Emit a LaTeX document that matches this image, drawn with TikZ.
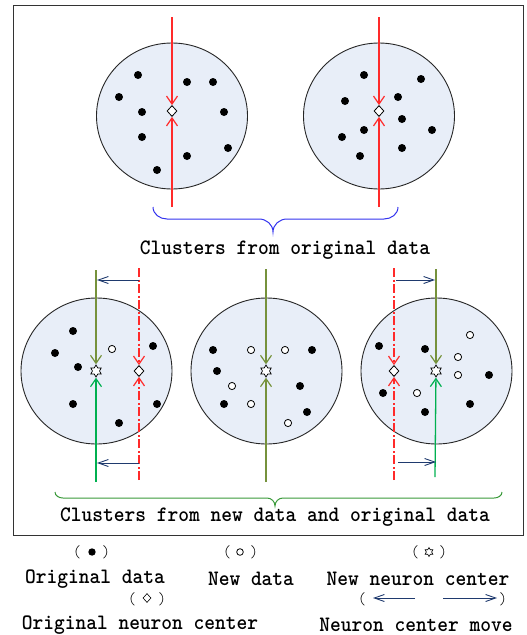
\documentclass[tikz,border=0pt]{standalone}
\usepackage{fontspec}
\newfontfamily\labfont[FakeStretch=0.93]{Latin Modern Mono Light}
\usetikzlibrary{arrows.meta,shapes.geometric}
\definecolor{cfill}{HTML}{E8EEF8}
\definecolor{cred}{HTML}{FF2A2A}
\definecolor{colive}{HTML}{76923C}
\definecolor{cgreen}{HTML}{00B050}
\definecolor{cnavy}{HTML}{1F3A6E}
\definecolor{cbrace}{HTML}{3333EE}
\definecolor{cgbrace}{HTML}{3A9A3A}
\tikzset{
  cluster/.style={draw=black!85,fill=cfill,line width=0.9pt},
  fdot/.style={fill=black},
  odot/.style={draw=black,fill=white,line width=0.8pt},
  diam/.style={diamond,draw=black,fill=white,line width=0.8pt,minimum width=10pt,minimum height=11pt,inner sep=0pt},
  hexstar/.style={star,star points=6,star point ratio=1.7,draw=black,fill=white,line width=0.7pt,minimum size=12pt,inner sep=0pt},
  redline/.style={draw=cred,line width=1.3pt},
  reddash/.style={draw=cred,line width=1.3pt,dash pattern=on 9pt off 2.5pt on 2pt off 2.5pt},
  oliveline/.style={draw=colive,line width=1.3pt},
  greenline/.style={draw=cgreen,line width=1.3pt},
  vtip/.style={-{Straight Barb[length=8pt,width=11pt,line width=1.2pt]}},
  movearrow/.style={draw=cnavy,line width=0.9pt,-{Straight Barb[length=10pt,width=7pt,line width=0.9pt]}},
  label/.style={font=\labfont\bfseries\fontsize{22}{22}\selectfont,inner sep=0pt},
  paren/.style={font=\labfont\fontsize{17}{17}\selectfont,inner sep=0pt},
}
\begin{document}
\begin{tikzpicture}[x=1pt,y=-1pt]
\useasboundingbox (0,0) rectangle (527,635);
\draw[line width=1pt,black!80] (13,5) rectangle (523,535);

% ---------- top clusters ----------
\draw[cluster] (172,116) ellipse [x radius=75.5,y radius=73];
\foreach \p in {(138,75),(119,97),(142,112),(142,137),(157,170),(187,82),(213,82),(224,112),(228,148),(187,156)}
  \fill[fdot] \p circle (4);
\node[diam] (d1) at (172,111) {};
\coordinate (t1a) at (172,17);
\coordinate (t1b) at (172,207);
\draw[redline,vtip] (t1a) -- (d1);
\draw[redline,vtip] (t1b) -- (d1);

\draw[cluster] (379,116) ellipse [x radius=75.5,y radius=73];
\foreach \p in {(364,75),(421,79),(345,101),(398,97),(402,119),(364,130),(342,137),(432,130),(360,156),(402,148)}
  \fill[fdot] \p circle (4);
\node[diam] (d2) at (379,111) {};
\coordinate (t2a) at (379,17);
\coordinate (t2b) at (379,207);
\draw[redline,vtip] (t2a) -- (d2);
\draw[redline,vtip] (t2b) -- (d2);

% blue brace
\draw[cbrace,line width=1pt] (153,207) to[out=-90,in=180] (167,219) -- (259,219)
  to[out=0,in=90] (273,232) to[out=90,in=180] (287,219) -- (384,219) to[out=0,in=-90] (398,207);
\node[label] (lab1) at (285,250) {Clusters from original data};

% ---------- bottom clusters ----------
% cluster 3
\draw[cluster] (96.5,371) ellipse [x radius=75.5,y radius=73];
\foreach \p in {(73,331),(55,353),(78,367),(73,404),(119,423),(153,346),(157,404)}
  \fill[fdot] \p circle (4);
\draw[odot] (112,349) circle (3.6);
\coordinate (r3a) at (139,268);
\coordinate (r3b) at (139,480);
\node[diam] (d3) at (139,371) {};
\draw[reddash,vtip] (r3a) -- (d3);
\draw[reddash,vtip] (r3b) -- (d3);
\node[hexstar] (s3) at (96,371) {};
\coordinate (o3a) at (96,270);
\coordinate (g3b) at (96,482);
\draw[oliveline,vtip] (o3a) -- (s3);
\draw[greenline,vtip] (g3b) -- (s3);
\coordinate (m3a) at (139,280);
\coordinate (m3b) at (97,280);
\draw[movearrow] (m3a) -- (m3b);
\coordinate (m3c) at (139,463);
\coordinate (m3d) at (97,463);
\draw[movearrow] (m3c) -- (m3d);

% cluster 4
\draw[cluster] (266.5,371) ellipse [x radius=75.5,y radius=73];
\foreach \p in {(213,350),(217,371),(224,404),(312,350),(300,386),(307,412)}
  \fill[fdot] \p circle (4);
\foreach \p in {(251,350),(285,350),(232,386),(251,404),(288,423)}
  \draw[odot] \p circle (3.6);
\node[hexstar] (s4) at (266,371) {};
\coordinate (o4a) at (266,269);
\coordinate (o4b) at (266,482);
\draw[oliveline,vtip] (o4a) -- (s4);
\draw[oliveline,vtip] (o4b) -- (s4);

% cluster 5
\draw[cluster] (436.5,371) ellipse [x radius=75.5,y radius=73];
\foreach \p in {(379,346),(425,349),(383,393),(425,412),(470,404),(489,375)}
  \fill[fdot] \p circle (4);
\foreach \p in {(470,335),(458,357),(458,375),(417,393)}
  \draw[odot] \p circle (3.6);
\coordinate (r5a) at (394,268);
\coordinate (r5b) at (394,480);
\node[diam] (d5) at (394,371) {};
\draw[reddash,vtip] (r5a) -- (d5);
\draw[reddash,vtip] (r5b) -- (d5);
\node[hexstar] (s5) at (436,371) {};
\coordinate (o5a) at (436,269);
\coordinate (g5b) at (435,477);
\draw[oliveline,vtip] (o5a) -- (s5);
\draw[greenline,vtip] (g5b) -- (s5);
\coordinate (m5a) at (396,280);
\coordinate (m5b) at (435,280);
\draw[movearrow] (m5a) -- (m5b);
\coordinate (m5c) at (398,462);
\coordinate (m5d) at (436,462);
\draw[movearrow] (m5c) -- (m5d);

% green brace
\draw[cgbrace,line width=1pt] (55,492) to[out=-90,in=180] (63,498) -- (267,498)
  to[out=0,in=90] (275,506) to[out=90,in=180] (283,498) -- (494,498) to[out=0,in=-90] (502,492);
\node[label] (lab2) at (275,517) {Clusters from new data and original data};

% ---------- legend ----------
\node[paren] (lp1) at (77,552) {(};
\fill[fdot] (92,552) circle (3.7);
\node[paren] (rp1) at (106,552) {)};
\node[label] (leg1) at (95,579) {Original data};

\node[paren] (lp2) at (227,552) {(};
\draw[odot] (240,552) circle (3.3);
\node[paren] (rp2) at (254,552) {)};
\node[label] (leg2) at (251,579) {New data};

\node[paren] (lp3) at (415,552) {(};
\node[hexstar,minimum size=9pt,line width=0.6pt] (s6) at (429,552) {};
\node[paren] (rp3) at (443,552) {)};
\node[label] (leg3) at (418,579) {New neuron center};

\node[paren] (lp4) at (132,599) {(};
\node[diam,minimum width=8pt,minimum height=9pt,line width=0.6pt] (d6) at (147,598) {};
\node[paren] (rp4) at (162,599) {)};
\node[label] (leg4) at (140,625) {Original neuron center};

\node[paren] (lp5) at (362,599) {(};
\coordinate (ma) at (415,598);
\coordinate (mb) at (373,598);
\draw[movearrow,line width=0.8pt] (ma) -- (mb);
\coordinate (mc) at (443,598);
\coordinate (md) at (497,598);
\draw[movearrow,line width=0.8pt] (mc) -- (md);
\node[paren] (rp5) at (503,599) {)};
\node[label] (leg5) at (416,625) {Neuron center move};
\end{tikzpicture}
\end{document}
